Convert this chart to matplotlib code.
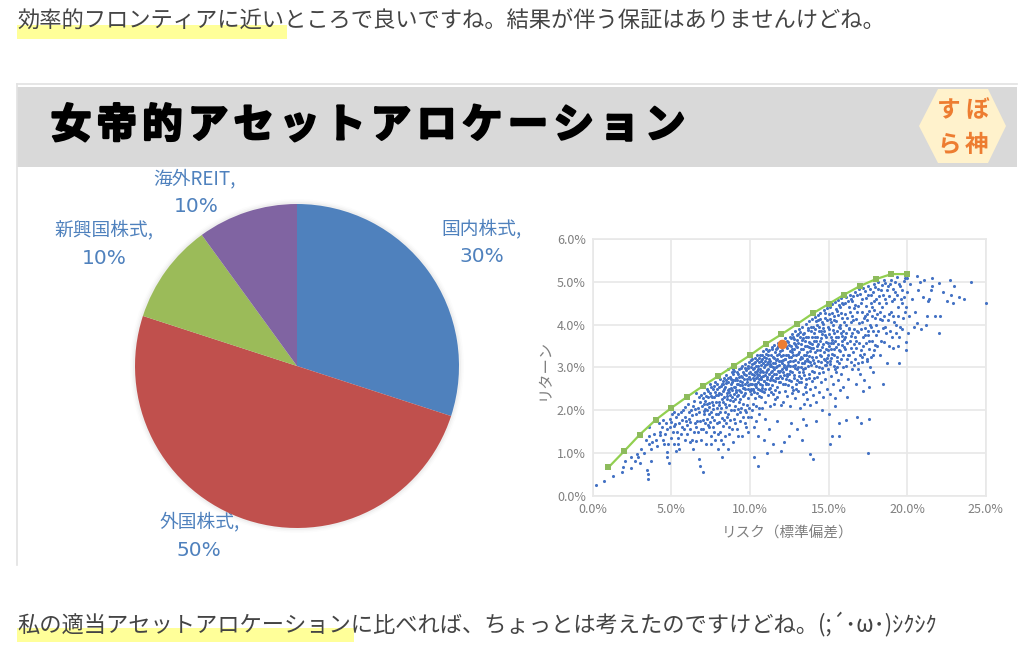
import matplotlib
matplotlib.use('Agg')
import matplotlib.pyplot as plt
import matplotlib.patheffects as pe
from matplotlib.patches import Polygon, Rectangle, Circle

plt.rcParams['font.family'] = ['Noto Sans CJK JP', 'DejaVu Sans']

W, H = 1024, 650

line_top = '効率的フロンティアに近いところで良いですね。結果が伴う保証はありませんけどね。'
line_bottom = '私の適当アセットアロケーションに比べれば、ちょっとは考えたのですけどね。(;´･ω･)ｼｸｼｸ'
title = '女帝的アセットアロケーション'
badge_rows = ['すぼ', 'ら神']

asset_names = ['国内株式,', '外国株式,', '新興国株式,', '海外REIT,']
asset_share = [30, 50, 10, 10]
asset_colors = ['#4F81BD', '#C0504D', '#9BBB59', '#8064A2']

frontier_risk = [1, 2, 3, 4, 5, 6, 7, 8, 9, 10, 11, 12, 13, 14, 15, 16, 17, 18, 19, 20]
frontier_return = [0.66, 1.04, 1.43, 1.77, 2.05, 2.31, 2.56, 2.80, 3.04, 3.28, 3.54, 3.77, 4.01,
                   4.26, 4.48, 4.70, 4.90, 5.06, 5.18, 5.18]
mine_risk = [12.04]
mine_return = [3.54]

# left to right
cloud_low = [(.2,.26),(.7,.35),(1.3,.46),(1.85,.56),(1.95,.68),(2.45,.64),(2.05,.81),(2.45,.91),(2.7,.81),(2.85,.91),
    (3,.76),(3.5,.4),(3.45,.6),(3.5,.5),(3.7,.81),(3.25,.99),(3.55,1.22),(2.8,.98),(3.1,1.1),(3.4,1.3),(3.6,1.4),(3.7,1.1),
    (3.8,1.25),(3.9,1.45),(3.6,1.6),(4,1.3),(4.1,1.15),(4.3,1.5),(4.5,1.3),(4.6,1.45),(4.7,1.03),(4.85,.76),(4.75,.9),
    (4.8,1.2),(4.9,1.6),(4.65,1.7),(4.9,1.8),(5.1,1.5),(5.2,1.2),(5.3,1.05),(5.5,1.1),(5.4,1.35),(5.5,1.7),(5.6,1.95),
    (5.3,1.85),(5.7,1.6),(5.9,1.3),(5.95,1.75),(6.1,1.95),(6.2,1.55),(6.3,1.3),(6.4,1.1),(6.5,1.7),(6.35,2.1),(6.6,1.9),
    (6.75,.85),(6.85,.7),(7,.55),(6.9,1.3),(7,1.55),(7.1,1.9),(6.8,2.2),(7.2,1.2),(7.3,2.15),(7.4,1.6),(7.5,1.4),(7.6,1.85),
    (7.7,2.3),(7.8,1.3),(7.9,1.7),(8,1.1),(8.2,.9),(8.3,1.2),(8.1,1.5),(8.4,1.95),(8.5,1.7),(8.6,1.1),(8.7,1.45),(8.9,1.25),
    (9.0,1.8),(9.2,1.55),(9.4,1.95),(9.5,1.4),(9.7,1.7),(9.9,1.5),(10.25,.91),(10.5,.7),(10.4,1.75),(10.5,1.4),(10.9,1.3),
    (11.1,1.0),(11.5,1.2),(11.2,1.55),(11.7,1.75),(12,1.05),(12.2,1.25),(12.5,1.4),(12.6,1.7),(13,1.55),(13.4,1.8),(13.85,.97),
    (14,.85),(13.3,1.3),(13.6,1.65),(14.2,1.75),(14.6,2.0),(15,1.9),(15.1,1.2),(15.2,1.4),(15.65,1.4),(15.65,1.7),(16.1,1.77),
    (16.8,1.85),(17.05,1.7),(17.6,1.8),(17.5,1.0),(15.4,2.1),(16.2,2.3),(17.2,2.45),(17.6,2.55),(18.45,2.6),(19.5,3.1)]

cloud_4_8 = [(4.2,1.7),(4.4,1.6),(5.05,1.9),(5.25,1.68),(5.45,1.92),(5.75,2.0),(5.85,1.85),(6.05,2.15),(6.15,1.8),(6.25,2.0),
    (6.45,2.22),(6.55,1.6),(6.7,2.05),(6.75,2.3),(6.85,1.75),(6.95,2.1),(7.05,2.4),(7.08,1.98),(7.15,2.22),(7.25,2.5),(7.28,1.8),
    (7.35,2.3),(7.42,2.08),(7.48,2.4),(7.52,1.95),(7.58,2.18),(7.65,2.5),(7.68,2.02),(7.72,1.78),(7.78,2.42),(7.82,2.2),(7.88,2.62),
    (7.92,2.05),(7.96,2.35),(7.99,1.9),(7.45,2.6),(7.62,2.3),(7.3,2.0),(6.6,2.4),(7.12,1.7),(7.75,2.65),(7.55,2.55),
    (4.25,1.42),(4.45,1.78),(4.55,1.2),(4.7,1.55),(4.95,1.35),(5.0,1.72),(5.15,1.62),(5.2,1.95),(5.35,1.5),(5.42,1.2),(5.6,1.45),
    (5.65,1.78),(5.8,1.55),(5.88,2.08),(6.0,1.45),(6.02,1.65),(6.18,1.25),(6.22,1.72),(6.32,1.88),(6.42,1.48),(6.48,2.02),(6.58,1.28),
    (6.62,1.75),(6.72,1.5),(6.78,1.95),(6.88,2.35),(6.92,1.55),(7.02,1.78),(7.06,2.15),(7.18,1.5),(7.22,2.32),(7.32,1.65),(7.38,1.9),
    (7.46,1.72),(7.54,1.2),(7.66,1.6),(7.74,1.5),(7.86,1.92),(7.94,1.45),(8.04,1.72),(8.16,1.3),(8.26,1.62),(8.36,1.78),(8.44,1.4),
    (8.56,1.85),(8.66,1.6),(8.76,1.78),(8.86,1.55),(8.96,2.0),(9.06,1.7),(9.16,1.9),(9.26,1.4),(9.36,1.75),(9.46,2.05),(9.56,1.85),
    (9.66,2.0),(9.76,1.6),(9.86,1.85),(9.96,2.05),(10.06,1.85),(10.16,2.0),(10.26,1.6),(10.36,2.1),(10.56,1.9),(10.76,2.05),(10.96,1.8)]

cloud_8_10 = [(8.02,2.55),(8.05,2.2),(8.08,1.95),(8.12,2.72),(8.15,2.38),(8.18,2.05),(8.22,2.6),(8.25,1.82),(8.28,2.45),(8.32,2.18),
    (8.35,2.75),(8.38,2.3),(8.42,2.55),(8.45,2.08),(8.48,2.82),(8.52,2.4),(8.55,2.25),(8.58,2.65),(8.62,1.9),(8.65,2.5),(8.68,2.12),
    (8.72,2.78),(8.75,2.35),(8.78,2.6),(8.82,2.0),(8.85,2.88),(8.88,2.48),(8.92,2.22),(8.95,2.7),(8.98,2.38),(9.02,2.92),(9.05,2.55),
    (9.08,2.1),(9.12,2.75),(9.15,2.32),(9.18,2.62),(9.22,2.85),(9.25,2.02),(9.28,2.48),(9.32,2.95),(9.35,2.68),(9.38,2.25),(9.42,2.8),
    (9.45,2.42),(9.48,3.02),(9.52,2.58),(9.55,2.15),(9.58,2.9),(9.62,2.72),(9.65,2.35),(9.68,3.08),(9.72,2.5),(9.75,2.82),(9.78,1.95),
    (9.82,2.65),(9.85,2.98),(9.88,2.28),(9.92,2.78),(9.95,3.12),(9.98,2.45),(8.3,2.62),(8.6,2.95),(8.9,2.95),(9.1,2.42),(9.4,2.58),
    (9.6,2.52),(9.7,2.98),(9.9,2.58),(8.5,2.7),(9.2,2.7),(8.8,2.72),(9.5,2.78),(9.8,2.12),(9.3,2.2),(8.7,2.42)]

cloud_10_12 = [(10.02,2.72),(10.05,3.0),(10.08,2.38),(10.1,3.18),(10.12,2.6),(10.15,2.85),(10.18,2.15),(10.2,2.95),(10.22,2.5),(10.25,3.1),
    (10.28,2.7),(10.3,2.28),(10.32,3.22),(10.35,2.88),(10.38,2.55),(10.4,3.02),(10.42,2.78),(10.45,2.4),(10.48,3.28),(10.5,2.65),
    (10.52,2.95),(10.55,3.12),(10.58,2.05),(10.6,2.82),(10.62,2.48),(10.65,3.3),(10.68,2.72),(10.7,3.05),(10.72,2.3),(10.75,2.92),
    (10.78,3.2),(10.8,2.58),(10.82,2.8),(10.85,3.38),(10.88,2.42),(10.9,3.0),(10.92,2.68),(10.95,3.15),(10.98,2.2),(11,2.88),
    (11.02,3.42),(11.05,2.6),(11.08,3.08),(11.1,2.78),(11.12,2.35),(11.15,3.28),(11.18,2.95),(11.2,2.5),(11.22,3.4),(11.25,2.7),
    (11.28,3.15),(11.3,2.1),(11.32,2.88),(11.35,3.02),(11.38,3.48),(11.4,2.58),(11.42,2.8),(11.45,3.25),(11.48,2.38),(11.5,3.1),
    (11.52,2.95),(11.55,3.52),(11.58,2.68),(11.6,3.35),(11.62,2.25),(11.65,3.0),(11.68,2.85),(11.7,3.45),(11.72,2.55),(11.75,3.2),
    (11.78,2.75),(11.8,3.58),(11.82,3.05),(11.85,2.42),(11.88,3.32),(11.9,2.92),(11.92,2.65),(11.95,3.62),(11.98,3.15),
    (10.15,3.2),(10.35,2.62),(10.55,2.32),(10.75,2.52),(10.95,2.5),(11.15,2.62),(11.35,2.42),(11.55,2.15),(11.75,2.3),(11.95,2.12),
    (10.25,2.42),(10.45,2.92),(10.65,2.88),(10.85,3.1),(11.05,3.22),(11.25,3.02),(11.45,3.0),(11.65,3.18),(11.85,2.88),(10.05,2.5)]

cloud_12_14 = [(12.02,2.95),(12.05,3.4),(12.08,2.6),(12.1,3.18),(12.12,2.2),(12.15,3.52),(12.18,2.82),(12.2,3.05),(12.22,2.45),(12.25,3.68),
    (12.28,3.3),(12.3,2.72),(12.32,2.95),(12.35,3.45),(12.38,2.32),(12.4,3.12),(12.42,3.6),(12.45,2.58),(12.48,2.85),(12.5,3.25),
    (12.52,3.72),(12.55,2.1),(12.58,3.02),(12.6,3.5),(12.62,2.68),(12.65,3.35),(12.68,2.9),(12.7,3.78),(12.72,2.48),(12.75,3.15),
    (12.78,3.58),(12.8,2.75),(12.82,3.42),(12.85,2.28),(12.88,3.05),(12.9,3.85),(12.92,2.62),(12.95,3.28),(12.98,2.95),(13,3.65),
    (13.02,3.48),(13.05,2.45),(13.08,3.12),(13.1,3.9),(13.12,2.8),(13.15,3.35),(13.18,2.05),(13.2,3.72),(13.22,3.0),(13.25,2.65),
    (13.28,3.55),(13.3,3.22),(13.32,3.95),(13.35,2.88),(13.38,2.38),(13.4,3.42),(13.42,3.1),(13.45,3.8),(13.48,2.55),(13.5,3.62),
    (13.52,2.98),(13.55,4.02),(13.58,3.3),(13.6,2.72),(13.62,3.5),(13.65,2.25),(13.68,3.88),(13.7,3.15),(13.72,3.7),(13.75,2.85),
    (13.78,4.08),(13.8,3.38),(13.82,2.5),(13.85,3.58),(13.88,3.05),(13.9,3.95),(13.92,2.68),(13.95,3.25),(13.98,4.12),
    (12.15,3.0),(12.35,2.85),(12.55,3.38),(12.75,3.72),(12.95,2.5),(13.15,2.65),(13.35,3.68),(13.55,2.42),(13.75,3.48),(13.95,3.72),
    (12.25,3.2),(12.45,3.05),(12.65,2.4),(12.85,3.55),(13.05,3.78),(13.25,3.25),(13.45,2.15),(13.65,3.2),(13.85,2.12),(14.0,2.35)]

cloud_14_16 = [(14.02,3.45),(14.05,2.9),(14.08,3.8),(14.1,3.1),(14.12,4.18),(14.15,2.55),(14.18,3.62),(14.2,3.25),(14.22,2.2),(14.25,4.0),
    (14.28,3.4),(14.3,2.78),(14.32,4.22),(14.35,3.55),(14.38,3.0),(14.4,3.85),(14.42,2.42),(14.45,3.28),(14.48,4.28),(14.5,3.68),
    (14.52,2.65),(14.55,3.12),(14.58,4.05),(14.6,3.48),(14.62,2.88),(14.65,3.92),(14.68,2.3),(14.7,4.35),(14.72,3.35),(14.75,3.75),
    (14.78,2.72),(14.8,4.15),(14.82,3.05),(14.85,3.6),(14.88,4.38),(14.9,2.5),(14.92,3.22),(14.95,3.95),(14.98,2.95),(15,4.25),
    (15.02,3.5),(15.05,3.78),(15.08,2.38),(15.1,4.42),(15.12,3.15),(15.15,4.05),(15.18,2.8),(15.2,3.65),(15.22,3.32),(15.25,4.48),
    (15.28,2.6),(15.3,3.88),(15.32,3.02),(15.35,4.2),(15.38,3.42),(15.4,2.28),(15.42,4.52),(15.45,3.72),(15.48,2.9),(15.5,4.08),
    (15.52,3.25),(15.55,4.32),(15.58,2.7),(15.6,3.55),(15.62,4.58),(15.65,3.1),(15.68,3.95),(15.7,2.48),(15.72,4.42),(15.75,3.38),
    (15.78,3.8),(15.8,2.85),(15.82,4.62),(15.85,3.62),(15.88,4.15),(15.9,3.0),(15.92,2.55),(15.95,4.48),(15.98,3.48),
    (14.15,3.7),(14.35,4.1),(14.55,3.85),(14.75,3.18),(14.95,3.4),(15.15,3.58),(15.35,3.8),(15.55,3.0),(15.75,4.0),(15.95,3.85)]

cloud_16_18 = [(16.02,4.25),(16.08,3.7),(16.12,4.65),(16.18,3.2),(16.22,2.72),(16.28,4.4),(16.32,3.9),(16.38,4.7),(16.42,3.45),(16.48,2.95),
    (16.52,4.55),(16.58,4.1),(16.62,3.05),(16.68,4.75),(16.72,3.62),(16.78,2.6),(16.82,4.3),(16.88,3.82),(16.92,4.82),(16.98,3.3),
    (17.02,2.85),(17.08,4.5),(17.12,4.05),(17.18,3.5),(17.22,4.85),(17.28,2.7),(17.32,3.75),(17.38,4.62),(17.42,3.15),(17.48,4.25),
    (17.52,4.9),(17.58,3.62),(17.62,3.0),(17.68,4.7),(17.72,3.95),(17.78,4.4),(17.82,2.9),(17.88,4.95),(17.92,3.4),(17.98,4.15),
    (16.3,3.3),(16.5,3.8),(16.7,4.45),(16.9,2.95),(17.1,3.25),(17.3,4.2),(17.5,3.85),(17.7,3.25),(17.9,4.55),(16.1,4.0),(16.4,4.05),(16.6,3.55)]

cloud_18_20 = [(18.05,3.75),(18.12,5.0),(18.2,4.5),(18.28,3.3),(18.35,4.8),(18.42,4.1),(18.5,5.05),(18.55,3.6),(18.62,4.6),(18.7,3.1),
    (18.78,4.9),(18.85,4.25),(18.92,3.85),(19,5.05),(19.05,4.55),(19.12,3.45),(19.2,4.75),(19.28,4.0),(19.35,5.12),(19.42,4.4),
    (19.5,3.7),(19.55,4.9),(19.62,4.6),(19.7,3.9),(19.78,5.02),(19.85,4.3),(19.92,3.6),(20,4.75),(20.02,5.1),(20.1,4.2),(18.3,4.3),
    (18.6,3.95),(19.1,4.2),(19.4,3.5),(19.7,4.5),(20.05,3.8)]

cloud_high = [(20.2,4.95),(20.3,4.6),(20.45,3.95),(20.5,4.3),(20.6,5.14),(20.6,4.03),(20.7,4.8),(20.8,5.0),(20.9,3.9),(21,4.65),(21.1,5.05),
    (21.2,4.0),(21.25,4.2),(21.3,4.55),(21.5,4.8),(21.6,5.1),(21.8,4.2),(21.6,4.9),(22,4.96),(22.1,4.2),(22,3.8),(22.3,4.75),(22.55,4.55),
    (22.7,5.03),(22.8,4.7),(22.9,4.5),(23,4.9),(23.3,4.65),(23.65,4.6),(24.05,5.0),(25,4.5),(19.9,3.4),(21.4,4.6)]

# the thick part of the cloud just under the frontier
core_a = [(7.03,2.28),(7.17,2.03),(7.33,2.44),(7.39,2.16),(7.51,2.33),(7.63,2.11),(7.71,2.57),(7.84,2.36),(7.91,2.49),(8.01,2.13),
    (8.06,2.4),(8.14,2.57),(8.21,2.27),(8.27,2.68),(8.33,2.5),(8.41,2.14),(8.46,2.64),(8.53,2.33),(8.59,2.47),(8.63,2.76),(8.71,2.23),
    (8.77,2.52),(8.83,2.3),(8.87,2.66),(8.93,2.84),(8.97,2.55),(9.03,2.26),(9.07,2.7),(9.13,2.48),(9.17,2.88),(9.23,2.36),(9.27,2.6),
    (9.33,2.78),(9.37,2.44),(9.41,2.98),(9.47,2.66),(9.53,2.34),(9.57,2.52),(9.61,2.84),(9.67,2.62),(9.71,2.4),(9.77,2.94),(9.83,2.72),
    (9.87,2.5),(9.91,3.04),(9.97,2.86),(9.99,2.62),(10.03,2.9),(10.07,2.62),(10.11,3.08),(10.17,2.74),(10.19,2.46),(10.23,2.82),
    (10.27,2.98),(10.31,2.58),(10.33,3.12),(10.37,2.76),(10.41,2.62),(10.43,3.18),(10.47,2.84),(10.49,2.5),(10.53,3.02),(10.57,2.72),
    (10.61,3.22),(10.63,2.6),(10.67,2.96),(10.71,2.78),(10.73,3.14),(10.77,2.44),(10.79,3.3),(10.83,2.9),(10.87,2.68),(10.91,3.24),
    (10.93,2.82),(10.97,3.06),(11.01,2.64),(11.03,3.32),(11.07,2.94),(11.11,2.72),(11.13,3.12),(11.17,3.38),(11.21,2.84),(11.23,3.2),
    (11.27,2.52),(11.31,3.08),(11.33,2.76),(11.37,3.3),(11.41,2.92),(11.43,3.42),(11.47,2.7),(11.51,3.22),(11.53,2.84),(11.57,3.1),
    (11.61,2.48),(11.63,3.44),(11.67,2.76),(11.71,3.04),(11.73,3.3),(11.77,2.92),(11.81,3.5),(11.83,2.66),(11.87,3.14),(11.91,3.38),
    (11.93,2.8),(11.97,3.26),(11.99,3.52)]

core_b = [(12.03,3.1),(12.07,2.74),(12.11,3.3),(12.13,2.9),(12.17,3.6),(12.21,2.62),(12.23,3.2),(12.27,2.98),(12.29,3.5),(12.33,2.8),
    (12.37,3.62),(12.39,3.04),(12.43,3.3),(12.47,2.7),(12.49,3.52),(12.53,3.14),(12.57,2.92),(12.59,3.68),(12.63,3.24),(12.67,2.54),
    (12.69,3.42),(12.73,3.04),(12.77,3.3),(12.79,2.82),(12.83,3.66),(12.87,3.18),(12.89,2.98),(12.93,3.5),(12.97,3.76),(12.99,2.7),
    (13.03,3.32),(13.07,3.0),(13.09,3.56),(13.13,2.88),(13.17,3.2),(13.19,3.82),(13.23,2.74),(13.27,3.42),(13.29,3.1),(13.33,3.64),
    (13.37,2.96),(13.39,3.78),(13.43,3.28),(13.47,2.82),(13.49,3.5),(13.53,3.16),(13.57,3.72),(13.59,2.62),(13.63,3.36),(13.67,3.02),
    (13.69,3.92),(13.73,3.26),(13.77,2.76),(13.79,3.6),(13.83,3.12),(13.87,3.84),(13.89,3.46),(13.93,2.92),(13.97,3.54),(13.99,3.94),
    (14.03,3.18),(14.07,3.62),(14.09,2.74),(14.13,3.9),(14.17,3.36),(14.19,4.08),(14.23,3.02),(14.27,3.72),(14.29,3.5),(14.33,3.16),
    (14.37,3.94),(14.39,2.86),(14.43,3.62),(14.47,3.4),(14.49,4.12),(14.53,3.26),(14.57,3.78),(14.59,2.98),(14.63,4.02),(14.67,3.54),
    (14.69,3.2),(14.73,3.86),(14.77,3.06),(14.79,4.26),(14.83,3.44),(14.87,3.7),(14.89,3.12),(14.93,4.1),(14.97,3.58),(14.99,3.3),
    (15.03,3.9),(15.07,3.08),(15.09,4.14),(15.13,3.42),(15.17,3.7),(15.19,3.22),(15.23,4.28),(15.27,3.56),(15.29,3.98),(15.33,3.3),
    (15.37,4.1),(15.39,3.62),(15.43,2.96),(15.47,4.36),(15.49,3.48),(15.53,3.84),(15.57,3.16),(15.59,4.22),(15.63,3.7),(15.67,4.46),
    (15.69,3.4),(15.73,3.92),(15.77,3.2),(15.79,4.28),(15.83,3.52),(15.87,3.74),(15.89,4.5),(15.93,3.3),(15.97,4.05),(15.99,3.66)]

core_c = [(16.04,3.42),(16.06,4.5),(16.1,3.8),(16.14,3.02),(16.16,4.16),(16.2,3.56),(16.24,4.56),(16.26,3.28),(16.3,3.92),(16.34,4.3),
    (16.36,3.62),(16.4,3.12),(16.44,4.6),(16.46,3.74),(16.5,4.2),(16.54,3.36),(16.56,4.66),(16.6,3.9),(16.64,4.38),(16.66,3.2),
    (16.7,3.7),(16.74,4.12),(16.76,3.46),(16.8,4.7),(16.84,3.84),(16.86,3.1),(16.9,4.44),(16.94,3.58),(16.96,4.04),(17,4.72),(17.04,3.4),
    (17.06,3.9),(17.1,4.3),(17.14,3.12),(17.16,4.6),(17.2,3.7),(17.24,4.16),(17.26,3.32),(17.3,4.78),(17.34,3.92),(17.36,4.44),
    (17.4,3.56),(17.44,4.1),(17.46,3.2),(17.5,4.68),(17.54,3.76),(17.56,4.32),(17.6,3.44),(17.64,4.84),(17.66,3.98),(17.7,4.5),
    (17.74,3.62),(17.76,4.2),(17.8,3.3),(17.84,4.76),(17.86,3.84),(17.9,4.34),(17.94,3.52),(17.96,4.88),(18,4.0),(18.04,4.6),(18.08,3.5),
    (18.1,4.24),(18.16,4.84),(18.18,3.86),(18.24,4.66),(18.26,4.12),(18.32,3.62),(18.38,4.92),(18.4,4.42),(18.46,3.92),(18.48,4.7),
    (18.52,4.2),(18.58,4.98),(18.64,3.8),(18.68,4.5),(18.72,4.8),(18.76,4.1),(18.82,3.5),(18.88,4.66),(18.94,4.95),(18.98,4.3),
    (19.02,3.7),(19.08,4.84),(19.14,4.06),(19.18,4.6),(19.24,5.0),(19.3,3.8),(19.38,4.7),(19.44,4.2),(19.48,4.95),(19.58,3.95),
    (19.66,4.8),(19.74,4.15),(19.82,4.65),(19.88,5.08),(19.95,4.4)]

all_points = (cloud_low + cloud_4_8 + cloud_8_10 + cloud_10_12 + cloud_12_14 + cloud_14_16
              + cloud_16_18 + cloud_18_20 + cloud_high + core_a + core_b + core_c)
cloud_risk = [p[0] for p in all_points]
cloud_return = [p[1] for p in all_points]

x_ticks = [0, 5, 10, 15, 20, 25]
y_ticks = [0, 1, 2, 3, 4, 5, 6]


def px_axes(x0, y0, x1, y1):
    # pixel box with y measured from the top of the picture
    return fig.add_axes([x0 / W, 1 - y1 / H, (x1 - x0) / W, (y1 - y0) / H])


fig = plt.figure(figsize=(W / 100, H / 100), dpi=100, facecolor='white')

bg = fig.add_axes([0, 0, 1, 1])
bg.set_xlim(0, W)
bg.set_ylim(H, 0)
bg.axis('off')

# page text with marker highlight
bg.add_patch(Rectangle((17, 25), 270, 14, color='#FFFF99', lw=0))
bg.add_patch(Rectangle((17, 628), 337, 14, color='#FFFF99', lw=0))
bg.text(17, 21, line_top, fontsize=16.05, color='#444444', va='center', ha='left')
bg.text(17, 624, line_bottom, fontsize=16.05, color='#444444', va='center', ha='left')

# slide frame and title band
bg.plot([17, 1017], [84, 84], color='#E2E2E2', lw=1.2)
bg.plot([17, 17], [84, 565], color='#E2E2E2', lw=1.2)
bg.add_patch(Rectangle((17, 87), 1000, 80, color='#D9D9D9', lw=0))
for i, ch in enumerate(title):
    bg.text(71 + i * 45.7, 126, ch, fontsize=29, color='black', ha='center', va='center', weight='bold',
            path_effects=[pe.withStroke(linewidth=1.8, foreground='black')])

bg.add_patch(Polygon([(919, 126), (938, 89), (988, 89), (1006, 126), (988, 163), (938, 163)],
                     closed=True, facecolor='#FFF2CC', edgecolor='none'))
for row, y in zip(badge_rows, [110, 145]):
    for ch, x in zip(row, [949, 977]):
        bg.text(x, y, ch, fontsize=17, color='#ED7D31', ha='center', va='center', weight='bold')

# pie
cx, cy, r = 297, 366, 162
for grow, alpha in [(5, .012), (3.5, .02), (2, .03)]:
    bg.add_patch(Circle((cx, cy), r + grow, color='black', alpha=alpha, lw=0))
pie_ax = px_axes(cx - r, cy - r, cx + r, cy + r)
pie_ax.pie(asset_share, colors=asset_colors, startangle=90, counterclock=False, radius=1,
           wedgeprops={'linewidth': 0})
pie_ax.set_xlim(-1, 1)
pie_ax.set_ylim(-1, 1)

label_pos = [(482, 229, 482, 257), (200, 522, 199, 551), (104, 230, 104, 258), (195, 179, 196, 207)]
for name, share, (nx, ny, sx, sy) in zip(asset_names, asset_share, label_pos):
    bg.text(nx, ny, name, fontsize=13.5, color='#4F81BD', ha='center', va='center')
    bg.text(sx, sy, f'{share}%', fontsize=14.5, color='#4F81BD', ha='center', va='center', family='DejaVu Sans')

# risk / return scatter
ax = px_axes(592.7, 239, 985.7, 495.7)
ax.scatter(cloud_risk, cloud_return, s=5, color='#4472C4', linewidths=0, zorder=3, clip_on=False)
ax.plot(frontier_risk, frontier_return, color='#92D050', lw=1.6, zorder=4)
ax.scatter(frontier_risk, frontier_return, s=18, marker='s', color='#8DBB5C', linewidths=0, zorder=4)
ax.scatter(mine_risk, mine_return, s=48, color='#ED7D31', linewidths=0, zorder=5)
ax.set_xlim(0, 25)
ax.set_ylim(0, 6)
ax.set_xticks(x_ticks)
ax.set_yticks(y_ticks)
ax.set_xticklabels([f'{v:.1f}%' for v in x_ticks])
ax.set_yticklabels([f'{v:.1f}%' for v in y_ticks])
ax.grid(True, color='#E8E8E8', lw=1.2)
ax.set_axisbelow(True)
ax.tick_params(length=0, labelsize=9, labelcolor='#7F7F7F', pad=5)
for s in ax.spines.values():
    s.set_color('#E8E8E8')
    s.set_linewidth(1.2)
bg.text(788, 534, 'リスク（標準偏差）', fontsize=10.5, color='#7F7F7F', ha='center', va='center')
bg.text(544, 369, 'リターン', fontsize=11, color='#7F7F7F', ha='center', va='center', rotation=90)

fig.savefig('out.png', dpi=100)
